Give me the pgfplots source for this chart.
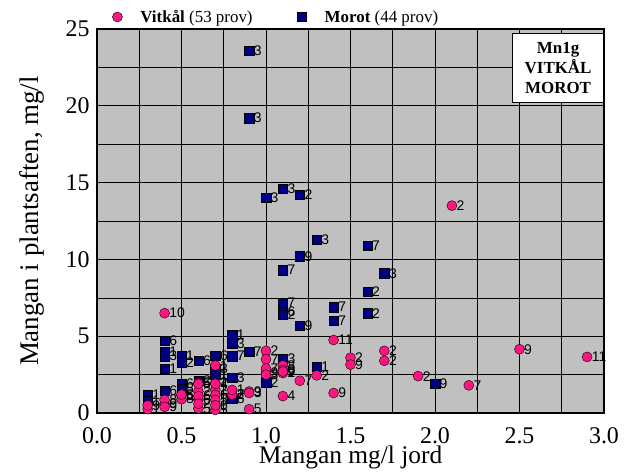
\documentclass[border=0pt]{standalone}
\usepackage{fontspec}
\setmainfont{Liberation Serif}
\newfontfamily\arial{Liberation Sans}
\usepackage{pgfplots}
\usepackage{pgfplotstable}
\pgfplotsset{compat=1.18}
\definecolor{vpink}{RGB}{255,20,130}
\definecolor{mnavy}{RGB}{0,0,128}
\definecolor{bggray}{RGB}{192,192,192}

\pgfplotstableread{
x y lab
2.1 13.5 2
0.4 6.5 10
1.4 4.75 11
1.0 4.05 2
1.0 3.5 7
1.5 3.6 2
1.5 3.15 9
1.7 4.05 2
1.7 3.4 2
2.5 4.15 9
2.9 3.65 11
1.9 2.4 2
2.2 1.8 7
1.1 3.1 8
1.1 2.6 2
1.0 2.6 9
1.2 2.1 7
1.3 2.45 2
1.4 1.3 9
1.1 1.1 4
0.9 1.4 9
0.9 0.25 5
0.3 0.25 1
0.4 0.6 9
0.4 0.85 8
0.5 1.15 5
0.6 1.95 5
0.6 1.4 2
0.6 0.87 6
0.6 0.3 5
0.7 3.1 1
0.7 1.95 2
0.7 1.5 2
0.7 1.17 6
0.7 0.85 5
0.7 0.2 5
0.8 1.17 2
0.8 1.2 7
0.6 1.1 6
0.7 0.5 0
0.5 0.9 8
0.3 0.5 9
1.1 2.8 8
1.0 2.9 7
0.6 0.6 2
0.8 1.5 1
0.4 0.4 9
0.5 1.2 5
0.7 1.9 4
0.6 1.9 5
1.0 2.5 3
0.9 1.3 3
1.1 2.7 9
}\vitkal

\pgfplotstableread{
x y lab
0.9 23.6 3
0.9 19.2 3
1.1 14.6 3
1.0 14.0 3
1.2 14.2 2
1.3 11.3 3
1.6 10.9 7
1.2 10.2 9
1.1 9.3 7
1.7 9.1 3
1.6 7.9 2
1.1 7.2 7
1.1 6.6 6
1.1 6.4 2
1.4 6.9 7
1.4 6.0 7
1.6 6.5 2
1.2 5.7 9
0.4 4.7 6
0.4 4.0 1
0.4 3.7 3
0.5 3.7 1
0.5 3.3 2
0.6 3.4 6
0.7 3.75 6
0.8 5.1 1
0.8 4.5 3
0.8 3.7 7
0.9 4.0 7
1.1 3.55 3
0.4 2.9 1
0.7 2.5 1
0.8 2.3 3
1.3 3.0 1
1.0 2.0 2
0.3 1.2 1
0.3 0.8 1
0.4 1.45 6
0.5 1.9 6
0.8 0.95 8
2.0 1.9 9
0.7 2.9 3
0.5 1.6 5
0.6 2.1 2
}\morot

\begin{document}
\begin{tikzpicture}
\path[use as bounding box] (-97bp,-61bp) rectangle (535bp,413bp);
\begin{axis}[
  scale only axis,
  width=507bp, height=384bp,
  xmin=0, xmax=3, ymin=0, ymax=25,
  xtick={0,0.5,...,3}, minor xtick={0.25,0.75,...,2.75},
  ytick={0,5,...,25}, minor ytick={2.5,7.5,...,22.5},
  grid=both,
  major grid style={black, line width=0.6bp},
  minor grid style={black, line width=0.6bp},
  tick style={draw=none},
  axis line style={black, line width=1.5bp},
  axis background/.style={fill=bggray},
  /pgf/number format/assume math mode=true,
  ticklabel style={font=\fontsize{24}{26}\selectfont},
  xticklabel style={/pgf/number format/fixed, /pgf/number format/fixed zerofill, /pgf/number format/precision=1, /tikz/yshift=-11bp},
  yticklabel style={/tikz/xshift=-4bp},
  xlabel={Mangan mg/l jord},
  ylabel={Mangan i plantsaften, mg/l},
  xlabel style={font=\fontsize{25.5}{27}\selectfont, yshift=5bp},
  ylabel style={font=\fontsize{27}{29}\selectfont, yshift=14bp},
  legend columns=2,
  legend style={at={(axis description cs:0.028,1.005)}, anchor=south west, draw=none, fill=none,
    font=\fontsize{17}{19}\selectfont, inner sep=1bp,
    /tikz/every odd column/.append style={column sep=16bp},
    /tikz/every even column/.append style={column sep=43bp}},
  point meta=explicit symbolic,
  nodes near coords,
  nodes near coords align={anchor=west},
  every node near coord/.append style={font=\arial\fontsize{14}{14}\selectfont, inner sep=0pt, xshift=4.5bp, text=black},
]
\addlegendimage{only marks, mark=*, mark size=5bp, mark options={fill=vpink, draw=black, line width=0.4bp}}
\addlegendentry{\textbf{Vitkål} (53 prov)}
\addlegendimage{only marks, mark=square*, mark size=4.5bp, mark options={fill=mnavy, draw=black, line width=0.4bp}}
\addlegendentry{\textbf{Morot} (44 prov)}
\addplot[only marks, mark=square*, mark size=4.7bp, mark options={fill=mnavy, draw=black, line width=0.4bp}, forget plot]
  table[x=x, y=y, meta=lab] {\morot};
\addplot[only marks, mark=*, mark size=5bp, mark options={fill=vpink, draw=black, line width=0.4bp}, forget plot]
  table[x=x, y=y, meta=lab] {\vitkal};
\node[draw=black, line width=0.8bp, fill=white, anchor=north east, align=center,
  minimum width=91bp, minimum height=69bp, inner sep=2bp,
  font=\bfseries\fontsize{17}{20}\selectfont] at (rel axis cs:1,0.99) {Mn1g\\VITKÅL\\MOROT};
\end{axis}
\end{tikzpicture}
\end{document}
